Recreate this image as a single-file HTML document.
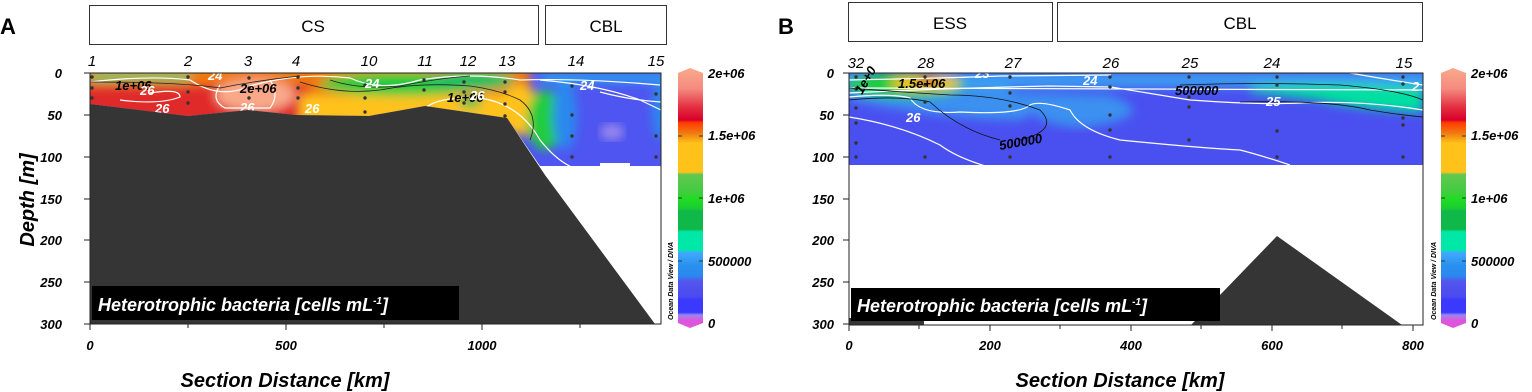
<!DOCTYPE html>
<html><head><meta charset="utf-8"><style>
html,body{margin:0;padding:0;background:#fff;}
svg{display:block;font-family:"Liberation Sans",sans-serif;}
.t{font-weight:bold;font-style:italic;font-size:13px;}
.s{font-style:italic;font-size:15px;}
.w{fill:#fff;font-weight:bold;font-style:italic;font-size:13px;}
.k{fill:#000;font-weight:bold;font-style:italic;font-size:13px;}
</style></head><body>
<svg width="1532" height="392" viewBox="0 0 1532 392">
<defs>
<filter id="b" x="-10%" y="-10%" width="120%" height="120%"><feGaussianBlur stdDeviation="5"/></filter>
<clipPath id="ca"><polygon points="90,73 661,73 661,166 630,166 630,163 600,163 600,166 540,166 507,118 425,106 369,116 296,115 248,110 188,116 90,104"/></clipPath>
<clipPath id="cb"><rect x="849" y="73" width="574" height="92"/></clipPath>
<linearGradient id="cbar" x1="0" y1="0" x2="0" y2="1">
<stop offset="0" stop-color="#f9a98a"/><stop offset="0.08" stop-color="#f48a80"/>
<stop offset="0.15" stop-color="#e43040"/><stop offset="0.2" stop-color="#d8002a"/>
<stop offset="0.21" stop-color="#ff3a00"/><stop offset="0.25" stop-color="#f07a10"/>
<stop offset="0.29" stop-color="#ffc21a"/><stop offset="0.4" stop-color="#ffc21a"/>
<stop offset="0.41" stop-color="#60c850"/><stop offset="0.48" stop-color="#40cc40"/>
<stop offset="0.5" stop-color="#22dd22"/><stop offset="0.54" stop-color="#18cc30"/>
<stop offset="0.55" stop-color="#10b84a"/><stop offset="0.62" stop-color="#10b84a"/>
<stop offset="0.63" stop-color="#00e8a8"/><stop offset="0.7" stop-color="#00e8a8"/>
<stop offset="0.71" stop-color="#40aaff"/><stop offset="0.76" stop-color="#2a90ee"/>
<stop offset="0.8" stop-color="#2a88ee"/><stop offset="0.82" stop-color="#5555ee"/>
<stop offset="0.88" stop-color="#4a4af0"/><stop offset="0.89" stop-color="#3a3aff"/>
<stop offset="0.94" stop-color="#3a3aff"/><stop offset="0.95" stop-color="#9a88ee"/>
<stop offset="0.97" stop-color="#dd55dd"/><stop offset="1" stop-color="#dd55dd"/>
</linearGradient>
</defs>

<!-- Panel A -->
<text x="0" y="34" font-size="22" font-weight="bold">A</text>
<rect x="89.5" y="5.5" width="449" height="39" fill="#fff" stroke="#333"/>
<text x="313" y="32" font-size="17" text-anchor="middle">CS</text>
<rect x="545.5" y="5.5" width="121" height="39" fill="#fff" stroke="#333"/>
<text x="606" y="32" font-size="17" text-anchor="middle">CBL</text>
<g class="s" text-anchor="middle">
<text x="92" y="66">1</text><text x="188" y="66">2</text><text x="248" y="66">3</text><text x="296" y="66">4</text><text x="369" y="66">10</text><text x="425" y="66">11</text><text x="468" y="66">12</text><text x="507" y="66">13</text><text x="576" y="66">14</text><text x="656" y="66">15</text>
</g>
<g clip-path="url(#ca)">
<rect x="80" y="60" width="600" height="120" fill="#4f55f0"/>
<g filter="url(#b)">
<rect x="80" y="60" width="450" height="70" fill="#f07a10"/>
<rect x="80" y="85" width="230" height="40" fill="#e02a2a"/>
<ellipse cx="255" cy="95" rx="40" ry="16" fill="#f9a98a"/>
<rect x="300" y="95" width="210" height="30" fill="#ffc21a"/>
<ellipse cx="400" cy="84" rx="80" ry="12" fill="#22cc40"/>
<ellipse cx="470" cy="80" rx="45" ry="10" fill="#10c060"/>
<rect x="90" y="73" width="100" height="8" fill="#2ad070"/>
<ellipse cx="520" cy="110" rx="20" ry="25" fill="#ffc21a"/>
<ellipse cx="545" cy="120" rx="18" ry="30" fill="#22cc40"/>
<ellipse cx="565" cy="115" rx="12" ry="35" fill="#2a88ee"/>
<rect x="540" y="73" width="130" height="10" fill="#2aa0f0"/>
<ellipse cx="470" cy="102" rx="12" ry="6" fill="#40c050"/>
<ellipse cx="660" cy="110" rx="8" ry="30" fill="#2a88ee"/>
</g>
<ellipse cx="612" cy="132" rx="12" ry="8" fill="#9a88ee" filter="url(#b)"/>
<g fill="none" stroke="#fff" stroke-width="1.2">
<path d="M90,82 Q150,75 190,80 Q220,100 250,86 Q300,72 350,78 Q380,92 420,80 Q470,72 520,80 Q580,78 660,85"/>
<path d="M150,93 Q180,88 180,97 Q160,105 120,100"/>
<path d="M220,85 Q210,100 225,108 L270,108 Q280,95 270,80"/>
<path d="M425,108 Q440,96 480,98 Q520,104 540,140 Q560,165 580,170"/>
<path d="M540,80 Q600,85 640,100 L661,110"/>
<path d="M600,92 Q630,100 661,102"/>
</g>
<g fill="none" stroke="#222" stroke-width="0.8">
<path d="M90,82 Q180,82 220,88 Q260,80 300,76"/>
<path d="M300,82 Q340,95 380,90 Q420,82 470,86 Q500,90 520,100 Q540,115 530,140"/>
<path d="M330,80 Q360,90 400,86 Q440,78 470,76"/>
</g>
</g>
<g fill="#333">
<circle cx="92" cy="77" r="1.7"/><circle cx="92" cy="88" r="1.7"/><circle cx="92" cy="98" r="1.7"/>
<circle cx="188" cy="77" r="1.7"/><circle cx="188" cy="92" r="1.7"/><circle cx="188" cy="103" r="1.7"/>
<circle cx="249" cy="78" r="1.7"/><circle cx="249" cy="88" r="1.7"/><circle cx="249" cy="98" r="1.7"/>
<circle cx="298" cy="77" r="1.7"/><circle cx="298" cy="88" r="1.7"/><circle cx="298" cy="98" r="1.7"/>
<circle cx="365" cy="85" r="1.7"/><circle cx="365" cy="98" r="1.7"/><circle cx="365" cy="112" r="1.7"/>
<circle cx="424" cy="80" r="1.7"/><circle cx="424" cy="90" r="1.7"/>
<circle cx="464" cy="82" r="1.7"/><circle cx="464" cy="92" r="1.7"/><circle cx="464" cy="103" r="1.7"/>
<circle cx="505" cy="82" r="1.7"/><circle cx="505" cy="92" r="1.7"/><circle cx="505" cy="104" r="1.7"/><circle cx="505" cy="116" r="1.7"/>
<circle cx="572" cy="86" r="1.7"/><circle cx="572" cy="115" r="1.7"/><circle cx="572" cy="136" r="1.7"/><circle cx="572" cy="157" r="1.7"/>
<circle cx="656" cy="94" r="1.7"/><circle cx="656" cy="136" r="1.7"/><circle cx="656" cy="157" r="1.7"/>
</g>
<text class="k" x="115" y="90">1e+06</text><text class="k" x="240" y="93">2e+06</text><text class="k" x="447" y="102">1e+06</text>
<text class="w" x="140" y="95">26</text><text class="w" x="155" y="113">26</text><text class="w" x="240" y="112">26</text><text class="w" x="305" y="113">26</text>
<text class="w" x="365" y="88">24</text><text class="w" x="580" y="90">24</text><text class="w" x="470" y="100">26</text><text class="w" x="208" y="80">24</text>
<polygon points="90,104 188,116 248,110 296,115 369,116 425,106 507,118 545,175 655,324 90,324" fill="#353535"/>
<rect x="90" y="73" width="571" height="251" fill="none" stroke="#222" stroke-width="1"/>
<g class="t" text-anchor="end">
<text x="62" y="78">0</text><text x="62" y="120">50</text><text x="62" y="162">100</text><text x="62" y="204">150</text><text x="62" y="245">200</text><text x="62" y="287">250</text><text x="62" y="329">300</text>
</g>
<g stroke="#222"><line x1="84" y1="73" x2="90" y2="73"/><line x1="84" y1="115" x2="90" y2="115"/><line x1="84" y1="157" x2="90" y2="157"/><line x1="84" y1="199" x2="90" y2="199"/><line x1="84" y1="240" x2="90" y2="240"/><line x1="84" y1="282" x2="90" y2="282"/><line x1="84" y1="324" x2="90" y2="324"/>
<line x1="90" y1="324" x2="90" y2="330"/><line x1="188" y1="324" x2="188" y2="328"/><line x1="286" y1="324" x2="286" y2="330"/><line x1="384" y1="324" x2="384" y2="328"/><line x1="482" y1="324" x2="482" y2="330"/><line x1="580" y1="324" x2="580" y2="328"/></g>
<g class="t" text-anchor="middle"><text x="90" y="350">0</text><text x="286" y="350">500</text><text x="482" y="350">1000</text></g>
<text x="285" y="387" text-anchor="middle" font-size="20" font-weight="bold" font-style="italic">Section Distance [km]</text>
<text transform="translate(34,200) rotate(-90)" text-anchor="middle" font-size="20" font-weight="bold" font-style="italic">Depth [m]</text>
<rect x="92" y="286" width="367" height="34" fill="#000"/>
<text x="98" y="311" fill="#fff" font-size="18" font-weight="bold" font-style="italic">Heterotrophic bacteria [cells mL<tspan font-size="10" dy="-7">-1</tspan><tspan dy="7">]</tspan></text>
<!-- colorbar A -->
<polygon points="678,73 690,68 703,73 703,323 690,328 678,323" fill="url(#cbar)"/>
<g stroke="#333"><line x1="678" y1="136" x2="682" y2="136"/><line x1="699" y1="136" x2="703" y2="136"/><line x1="678" y1="198" x2="682" y2="198"/><line x1="699" y1="198" x2="703" y2="198"/><line x1="678" y1="261" x2="682" y2="261"/><line x1="699" y1="261" x2="703" y2="261"/></g>
<g class="t"><text x="708" y="78">2e+06</text><text x="708" y="140">1.5e+06</text><text x="708" y="203">1e+06</text><text x="708" y="266">500000</text><text x="708" y="328">0</text></g>
<text transform="translate(673,320) rotate(-90)" font-size="7" font-weight="bold" font-style="italic">Ocean Data View / DIVA</text>

<!-- Panel B -->
<text x="778" y="34" font-size="22" font-weight="bold">B</text>
<rect x="848.5" y="2.5" width="204" height="39" fill="#fff" stroke="#333"/>
<text x="950" y="29" font-size="17" text-anchor="middle">ESS</text>
<rect x="1057.5" y="2.5" width="365" height="39" fill="#fff" stroke="#333"/>
<text x="1240" y="29" font-size="17" text-anchor="middle">CBL</text>
<g class="s" text-anchor="middle">
<text x="856" y="68">32</text><text x="926" y="68">28</text><text x="1013" y="68">27</text><text x="1111" y="68">26</text><text x="1190" y="68">25</text><text x="1272" y="68">24</text><text x="1404" y="68">15</text>
</g>
<g clip-path="url(#cb)">
<rect x="840" y="60" width="600" height="120" fill="#4a50f0"/>
<g filter="url(#b)">
<path d="M849,90 Q950,100 1020,105 Q1060,140 1120,120 Q1150,110 1110,95 L849,88 Z" fill="#3a90f0"/>
<path d="M849,88 L1000,84 Q1050,110 1020,120 Q950,120 849,100 Z" fill="#3a90f0"/>
<rect x="840" y="73" width="600" height="14" fill="#3aa0f0"/>
<ellipse cx="905" cy="85" rx="60" ry="13" fill="#22cc40"/>
<ellipse cx="925" cy="83" rx="35" ry="7" fill="#ffc21a"/>
<ellipse cx="928" cy="82" rx="10" ry="4" fill="#e03020"/>
<path d="M1250,88 Q1330,82 1423,88 L1423,112 Q1360,110 1320,100 Q1280,95 1250,92 Z" fill="#00e0a0"/>
</g>
<g fill="none" stroke="#fff" stroke-width="1.2">
<path d="M849,80 Q950,78 1000,76 L1111,75"/>
<path d="M849,93 Q950,88 1050,86 L1111,87 Q1160,95 1190,100 Q1260,105 1300,103 Q1360,100 1423,110"/>
<path d="M849,88 L1423,90"/>
<path d="M849,97 Q890,93 910,98 Q920,115 960,112 Q1020,115 1030,105 Q1040,100 1070,110 Q1080,130 1120,140 Q1200,148 1240,150 Q1260,155 1290,165"/>
<path d="M849,117 Q900,125 940,145 Q960,160 1000,170"/>
<path d="M1350,73 Q1390,80 1423,85"/>
</g>
<g fill="none" stroke="#111" stroke-width="0.8">
<path d="M849,88 Q900,92 950,95 Q1000,95 1040,110 Q1060,130 1020,140"/>
<path d="M849,100 Q900,95 930,102 Q960,130 1000,140"/>
<path d="M1180,85 Q1260,82 1340,85 Q1400,90 1423,100"/>
<path d="M1240,102 Q1330,100 1370,110 Q1400,115 1423,117"/>
</g>
</g>
<g fill="#333">
<circle cx="856" cy="77" r="1.7"/><circle cx="856" cy="89" r="1.7"/><circle cx="856" cy="108" r="1.7"/><circle cx="856" cy="123" r="1.7"/><circle cx="856" cy="157" r="1.7"/><circle cx="856" cy="143" r="1.7"/>
<circle cx="925" cy="77" r="1.7"/><circle cx="925" cy="85" r="1.7"/><circle cx="925" cy="102" r="1.7"/><circle cx="925" cy="157" r="1.7"/>
<circle cx="1010" cy="77" r="1.7"/><circle cx="1010" cy="93" r="1.7"/><circle cx="1010" cy="106" r="1.7"/><circle cx="1010" cy="157" r="1.7"/>
<circle cx="1110" cy="77" r="1.7"/><circle cx="1110" cy="87" r="1.7"/><circle cx="1110" cy="115" r="1.7"/><circle cx="1110" cy="130" r="1.7"/><circle cx="1110" cy="157" r="1.7"/>
<circle cx="1189" cy="77" r="1.7"/><circle cx="1189" cy="97" r="1.7"/><circle cx="1189" cy="107" r="1.7"/><circle cx="1189" cy="140" r="1.7"/>
<circle cx="1277" cy="77" r="1.7"/><circle cx="1277" cy="85" r="1.7"/><circle cx="1277" cy="131" r="1.7"/><circle cx="1277" cy="157" r="1.7"/>
<circle cx="1403" cy="77" r="1.7"/><circle cx="1403" cy="84" r="1.7"/><circle cx="1403" cy="118" r="1.7"/><circle cx="1403" cy="125" r="1.7"/><circle cx="1403" cy="157" r="1.7"/>
</g>
<text class="k" x="898" y="88">1.5e+06</text><text class="k" x="1175" y="95">500000</text><text class="k" transform="translate(1000,150) rotate(-10)">500000</text>
<text class="k" transform="translate(862,95) rotate(-60)">1e+0</text>
<text class="w" x="1083" y="85">24</text><text class="w" x="906" y="122">26</text><text class="w" x="1266" y="106">25</text><text class="w" x="975" y="78">23</text><text class="w" x="1412" y="91">2</text>
<polygon points="1191,325 1277,236 1402,325" fill="#353535"/>
<rect x="849" y="318" width="75" height="7" fill="#353535"/>
<rect x="849" y="73" width="574" height="252" fill="none" stroke="#222" stroke-width="1"/>
<g class="t" text-anchor="end">
<text x="834" y="78">0</text><text x="834" y="120">50</text><text x="834" y="162">100</text><text x="834" y="204">150</text><text x="834" y="245">200</text><text x="834" y="287">250</text><text x="834" y="329">300</text>
</g>
<g stroke="#222"><line x1="843" y1="73" x2="849" y2="73"/><line x1="843" y1="115" x2="849" y2="115"/><line x1="843" y1="157" x2="849" y2="157"/><line x1="843" y1="199" x2="849" y2="199"/><line x1="843" y1="240" x2="849" y2="240"/><line x1="843" y1="282" x2="849" y2="282"/><line x1="843" y1="324" x2="849" y2="324"/>
<line x1="849" y1="325" x2="849" y2="331"/><line x1="919" y1="325" x2="919" y2="329"/><line x1="990" y1="325" x2="990" y2="331"/><line x1="1060" y1="325" x2="1060" y2="329"/><line x1="1131" y1="325" x2="1131" y2="331"/><line x1="1201" y1="325" x2="1201" y2="329"/><line x1="1272" y1="325" x2="1272" y2="331"/><line x1="1342" y1="325" x2="1342" y2="329"/><line x1="1413" y1="325" x2="1413" y2="331"/></g>
<g class="t" text-anchor="middle"><text x="849" y="350">0</text><text x="990" y="350">200</text><text x="1131" y="350">400</text><text x="1272" y="350">600</text><text x="1413" y="350">800</text></g>
<text x="1120" y="387" text-anchor="middle" font-size="20" font-weight="bold" font-style="italic">Section Distance [km]</text>
<rect x="851" y="288" width="369" height="33" fill="#000"/>
<text x="857" y="312" fill="#fff" font-size="18" font-weight="bold" font-style="italic">Heterotrophic bacteria [cells mL<tspan font-size="10" dy="-7">-1</tspan><tspan dy="7">]</tspan></text>
<!-- colorbar B -->
<polygon points="1441,73 1453,68 1466,73 1466,323 1453,328 1441,323" fill="url(#cbar)"/>
<g stroke="#333"><line x1="1441" y1="136" x2="1445" y2="136"/><line x1="1462" y1="136" x2="1466" y2="136"/><line x1="1441" y1="198" x2="1445" y2="198"/><line x1="1462" y1="198" x2="1466" y2="198"/><line x1="1441" y1="261" x2="1445" y2="261"/><line x1="1462" y1="261" x2="1466" y2="261"/></g>
<g class="t"><text x="1471" y="78">2e+06</text><text x="1471" y="140">1.5e+06</text><text x="1471" y="203">1e+06</text><text x="1471" y="266">500000</text><text x="1471" y="328">0</text></g>
<text transform="translate(1436,320) rotate(-90)" font-size="7" font-weight="bold" font-style="italic">Ocean Data View / DIVA</text>
</svg>
</body></html>
